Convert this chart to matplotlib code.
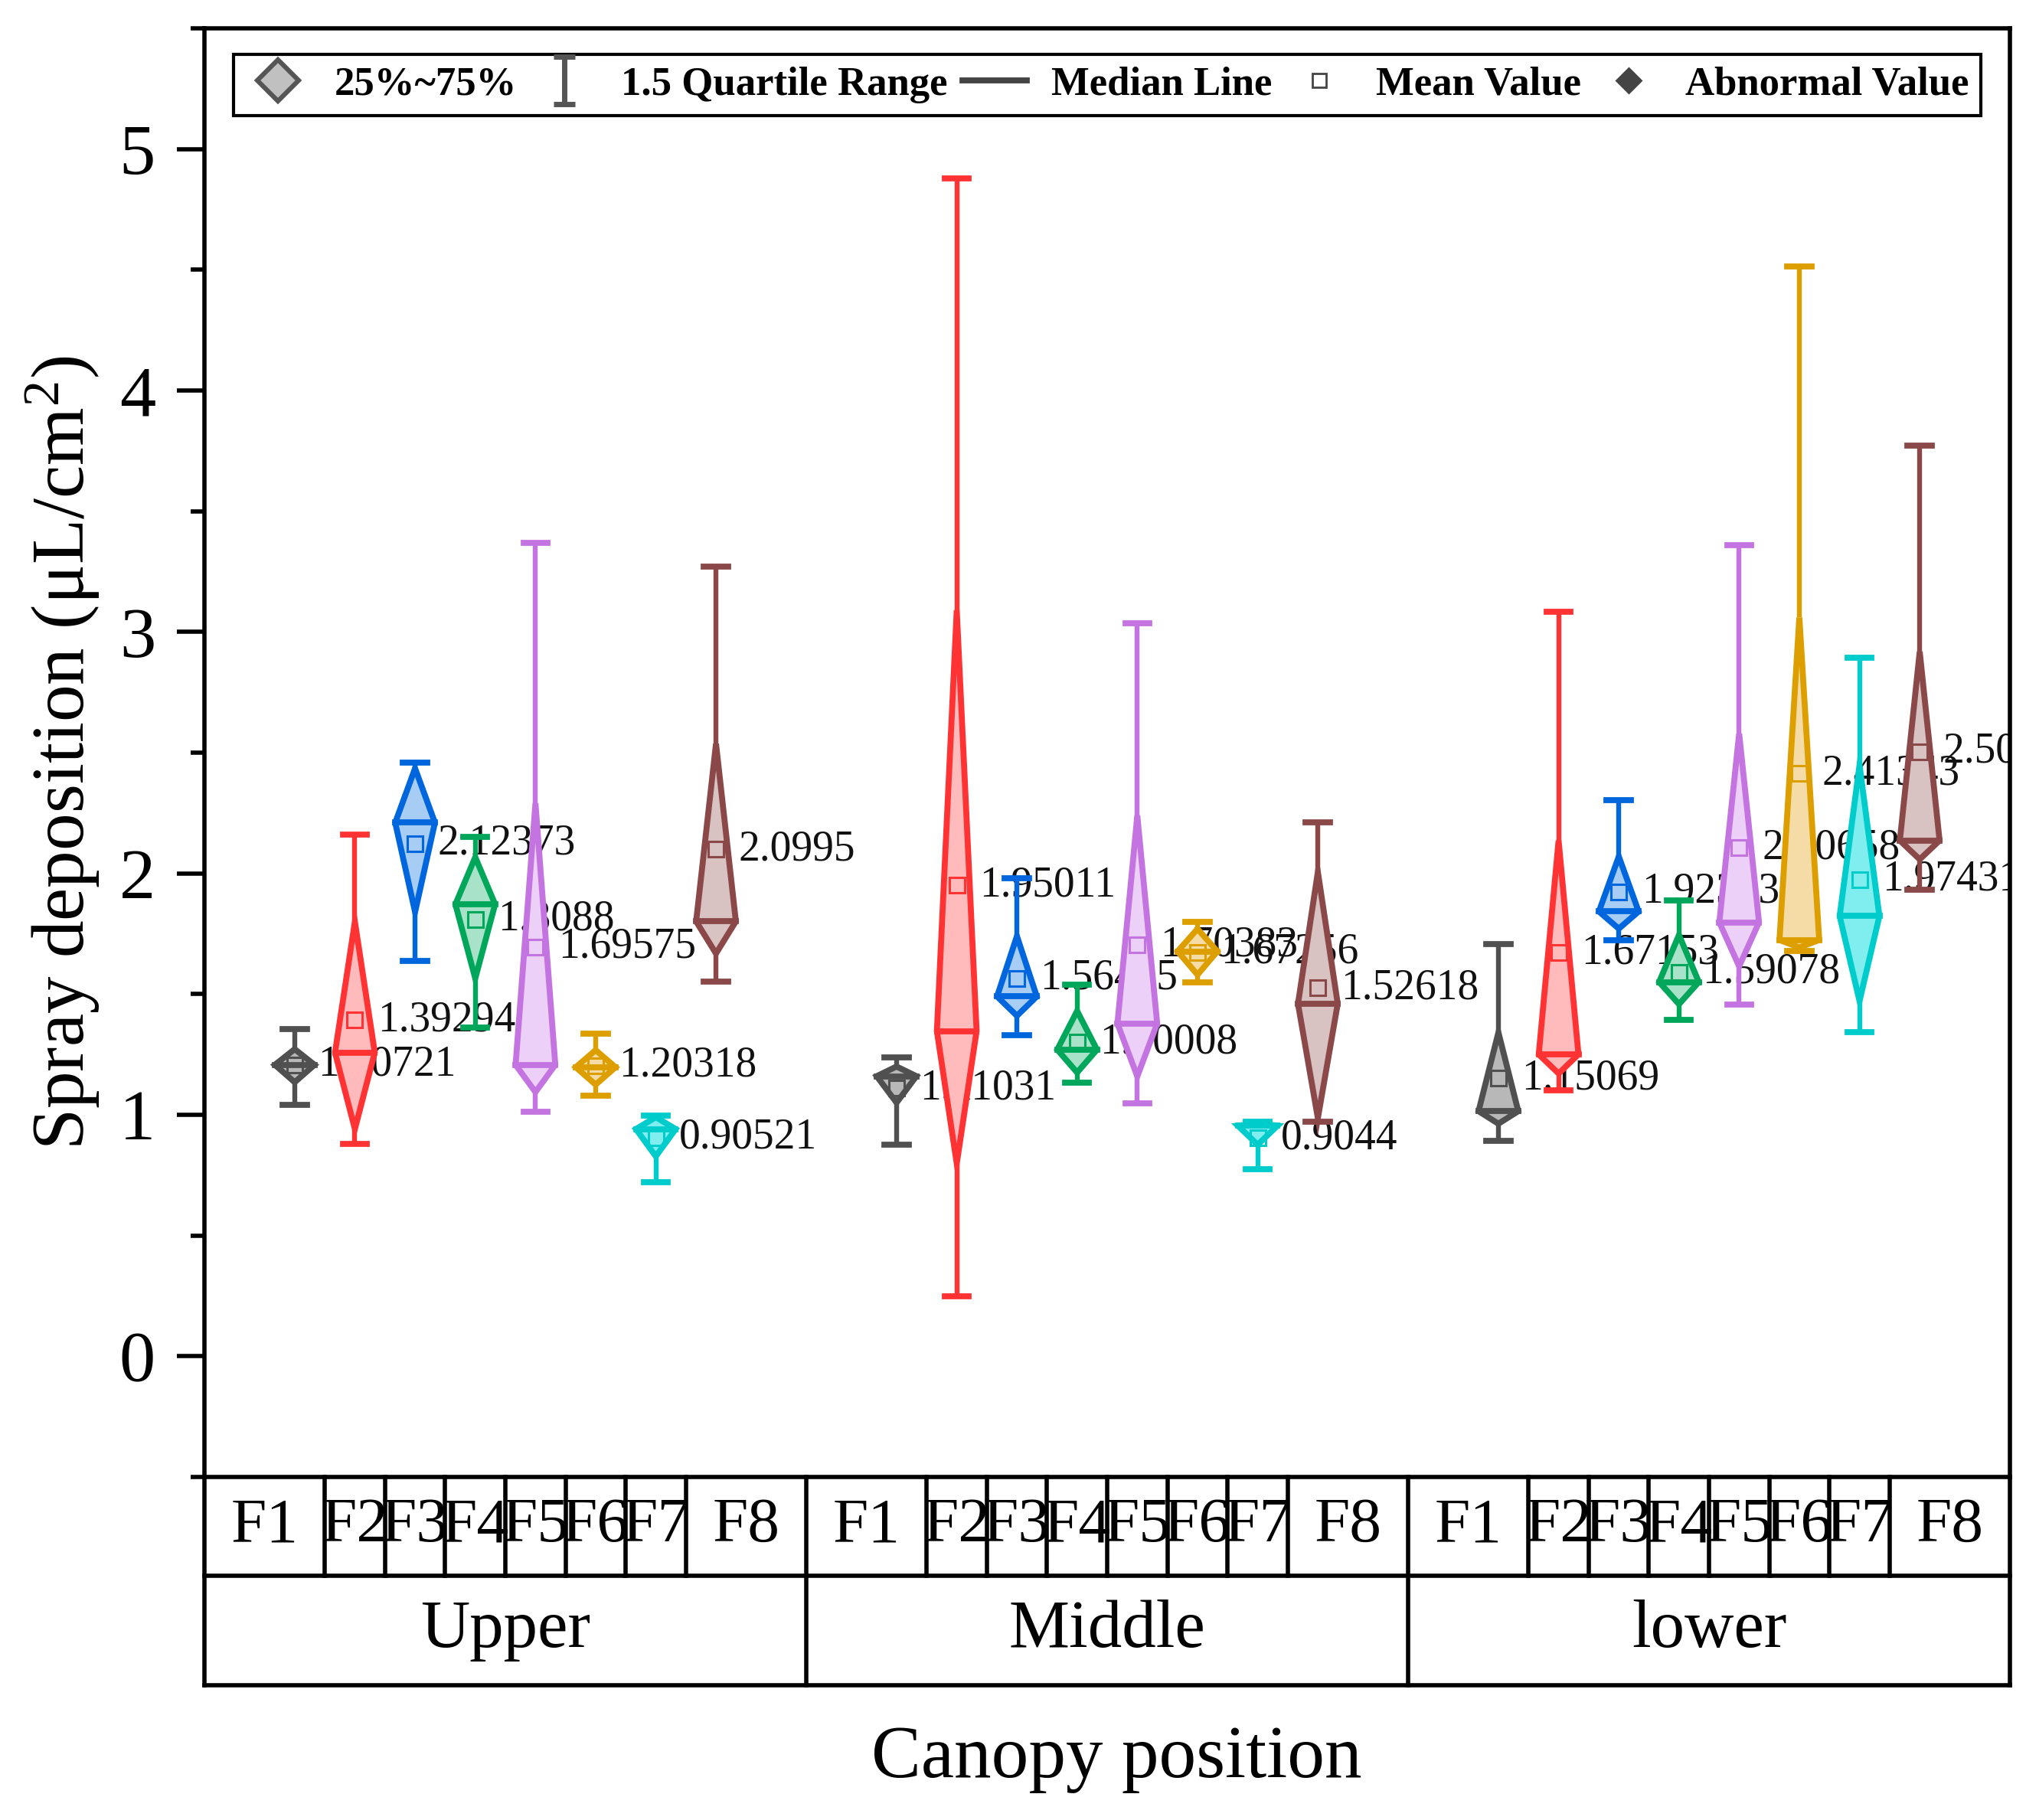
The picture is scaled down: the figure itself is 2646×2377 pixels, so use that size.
import numpy as np
import matplotlib
matplotlib.use("Agg")
import matplotlib.pyplot as plt
from matplotlib.patches import Polygon
from matplotlib.lines import Line2D
from matplotlib.path import Path
import matplotlib.transforms as mtransforms

plt.rcParams["font.family"] = ["Liberation Serif", "DejaVu Serif"]
plt.rcParams["mathtext.fontset"] = "custom"
plt.rcParams["mathtext.rm"] = "Liberation Serif"
plt.rcParams["mathtext.it"] = "Liberation Serif:italic"

# =============================
# data
# =============================
groups = ["Upper", "Middle", "lower"]
treatments = ["F1", "F2", "F3", "F4", "F5", "F6", "F7", "F8"]

whisker_max = [
    [1.356, 2.16, 2.46, 2.15, 3.37, 1.336, 0.998, 3.27],
    [1.237, 4.88, 1.981, 1.54, 3.036, 1.80, 0.97, 2.21],
    [1.706, 3.085, 2.303, 1.888, 3.361, 4.514, 2.892, 3.773],
]
q3 = [
    [1.272, 1.80, 2.435, 2.067, 2.29, 1.268, 0.99, 2.537],
    [1.20, 3.09, 1.74, 1.43, 2.24, 1.77, 0.965, 2.006],
    [1.341, 2.136, 2.07, 1.745, 2.579, 3.06, 2.449, 2.918],
]
median = [
    [1.207, 1.258, 2.21, 1.872, 1.207, 1.197, 0.941, 1.801],
    [1.16, 1.347, 1.49, 1.27, 1.378, 1.677, 0.955, 1.46],
    [1.015, 1.25, 1.842, 1.55, 1.797, 1.724, 1.823, 2.136],
]
q1 = [
    [1.135, 0.941, 1.84, 1.565, 1.094, 1.125, 0.828, 1.668],
    [1.05, 0.798, 1.41, 1.175, 1.159, 1.58, 0.876, 0.986],
    [0.963, 1.171, 1.771, 1.458, 1.615, 1.693, 1.471, 2.058],
]
whisker_min = [
    [1.041, 0.879, 1.637, 1.36, 1.012, 1.08, 0.72, 1.551],
    [0.876, 0.248, 1.331, 1.134, 1.049, 1.55, 0.776, 0.97],
    [0.893, 1.10, 1.724, 1.393, 1.458, 1.68, 1.341, 1.933],
]
mean_vals = [
    [1.20721, 1.39294, 2.12373, 1.8088, 1.69575, 1.20318, 0.90521, 2.0995],
    [1.11031, 1.95011, 1.56455, 1.30008, 1.70383, 1.67256, 0.9044, 1.52618],
    [1.15069, 1.67153, 1.92303, 1.59078, 2.10658, 2.41343, 1.97431, 2.50327],
]

line_colors = ["#505050", "#FF3333", "#0066DD", "#00A65A",
               "#C474E0", "#DD9F00", "#00CCCC", "#8A4848"]
fill_colors = ["#B8B8B8", "#FFBBBB", "#A8CDF5", "#A8E2C8",
               "#ECD0F7", "#F5DCA6", "#80EEEE", "#D9C2C2"]

# =============================
# figure
# =============================
fig = plt.figure(figsize=(13.23, 11.885), dpi=200)
ax = fig.add_axes([0.1009, 0.1885, 0.8912, 0.7959])

half_w = 0.33
cap_w = 0.2

for g in range(len(groups)):
    for i in range(len(treatments)):
        x = g * 10 + 1.5 + i
        c = line_colors[i]
        fc = fill_colors[i]
        mx = whisker_max[g][i]
        mn = whisker_min[g][i]
        up = q3[g][i]
        lo = q1[g][i]
        md = median[g][i]
        mv = mean_vals[g][i]

        # whiskers + caps
        ax.plot([x, x], [up, mx], color=c, lw=2.3, zorder=3, solid_capstyle="butt")
        ax.plot([x, x], [lo, mn], color=c, lw=2.3, zorder=3, solid_capstyle="butt")
        ax.plot([x - cap_w, x + cap_w], [mx, mx], color=c, lw=2.8, zorder=3)
        ax.plot([x - cap_w, x + cap_w], [mn, mn], color=c, lw=2.8, zorder=3)

        # diamond box (25%~75%), widest at the median
        diamond = Polygon([(x, lo), (x - half_w, md), (x, up), (x + half_w, md)],
                          closed=True, facecolor=fc, edgecolor=c, lw=2.8,
                          joinstyle="miter", zorder=4)
        ax.add_patch(diamond)
        ax.plot([x - half_w, x + half_w], [md, md], color=c, lw=2.8, zorder=5)

        # mean value
        ax.plot(x, mv, marker="s", ms=7.5, mfc="none", mec=c, mew=1.1, zorder=6)
        ax.text(x + 0.38, mv, f"{mv:.6g}", fontsize=20, ha="left", va="center",
                family=["Liberation Serif"], color="#111111", zorder=2, clip_on=True)

ax.set_xlim(0, 30)
ax.set_ylim(-0.5, 5.5)
ax.set_xticks([])
ax.set_yticks([0, 1, 2, 3, 4, 5])
ax.set_yticks(np.arange(-0.5, 5.51, 0.5), minor=True)
ax.tick_params(axis="y", which="major", direction="out", length=13, width=2,
               labelsize=34, pad=10)
ax.tick_params(axis="y", which="minor", direction="out", length=6.5, width=2)
for sp in ax.spines.values():
    sp.set_linewidth(2)

# =============================
# category table under the axis
# =============================
trans = mtransforms.blended_transform_factory(ax.transData, ax.transAxes)
row1 = -0.0682
row2 = -0.1438
lkw = dict(color="black", lw=2, transform=trans, clip_on=False, zorder=10)

ax.add_line(Line2D([0, 30], [row1, row1], **lkw))
ax.add_line(Line2D([0, 30], [row2, row2], **lkw))
ax.add_line(Line2D([0, 0], [0, row2], **lkw))
ax.add_line(Line2D([30, 30], [0, row2], **lkw))
for g in range(len(groups)):
    if g > 0:
        ax.add_line(Line2D([g * 10, g * 10], [0, row2], **lkw))
    for b in range(2, 9):
        ax.add_line(Line2D([g * 10 + b, g * 10 + b], [0, row1], **lkw))
    for i, t in enumerate(treatments):
        x = g * 10 + 1.5 + i
        if i == 0:
            x = g * 10 + 1.0
        if i == 7:
            x = g * 10 + 9.0
        ax.text(x, row1 / 2, t, transform=trans, ha="center", va="center",
                fontsize=30)
    ax.text(g * 10 + 5, (row1 + row2) / 2, groups[g], transform=trans,
            ha="center", va="center", fontsize=32)

ax.text(0.505, -0.195, "Canopy position", transform=ax.transAxes,
        ha="center", va="center", fontsize=35)
ax.text(-0.079, 0.5, "Spray deposition (μL/cm$^{2}$)", transform=ax.transAxes,
        rotation=90, ha="center", va="center", fontsize=35)

# =============================
# legend
# =============================
ibeam = Path([(-0.45, 1), (0.45, 1), (0, 1), (0, -1), (-0.45, -1), (0.45, -1)],
             [Path.MOVETO, Path.LINETO, Path.MOVETO, Path.LINETO,
              Path.MOVETO, Path.LINETO])
handles = [
    Line2D([], [], ls="none", marker="D", ms=14, mfc="#C0C0C0", mec="#555555", mew=2.2),
    Line2D([], [], ls="none", marker=ibeam, ms=22, mfc="none", mec="#555555", mew=2.5),
    Line2D([], [], color="#444444", lw=2.8),
    Line2D([], [], ls="none", marker="s", ms=6.5, mfc="none", mec="#444444", mew=1),
    Line2D([], [], ls="none", marker="D", ms=8, mfc="#444444", mec="#444444"),
]
labels = ["25%~75%", "1.5 Quartile Range", "Median Line", "Mean Value", "Abnormal Value"]
leg = ax.legend(handles, labels, loc="upper left", ncol=5, mode="expand",
                bbox_to_anchor=(0.016, 0.942, 0.968, 0.04), borderaxespad=0,
                prop={"family": "Liberation Serif", "weight": "bold", "size": 19},
                frameon=True, fancybox=False, framealpha=1, edgecolor="black",
                handlelength=1.6, handletextpad=0.6, columnspacing=0.8,
                borderpad=0.3)
leg.get_frame().set_linewidth(1.5)

fig.savefig("out.png", dpi=200)
